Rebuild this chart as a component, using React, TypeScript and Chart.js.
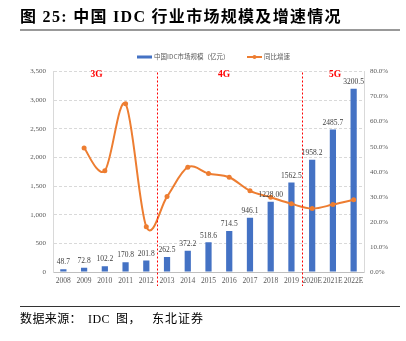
import React, { useEffect, useRef } from "react";
import { Chart, registerables } from "chart.js";

Chart.register(...registerables);

const categories = ["2008","2009","2010","2011","2012","2013","2014","2015","2016","2017","2018","2019","2020E","2021E","2022E"];
const marketSize = [48.7, 72.8, 102.2, 170.8, 201.8, 262.5, 372.2, 518.6, 714.5, 946.1, 1228.0, 1562.5, 1958.2, 2485.7, 3200.5];
const sizeLabels = ["48.7","72.8","102.2","170.8","201.8","262.5","372.2","518.6","714.5","946.1","1228.00","1562.5","1958.2","2485.7","3200.5"];
const growth = [null, 49.5, 40.4, 67.1, 18.1, 30.1, 41.8, 39.3, 37.8, 32.4, 29.8, 27.2, 25.3, 26.9, 28.8];
const eraLabels = ["3G", "4G", "5G"];
const eraPositions = [1.6, 7.75, 13.1];
const eraDividers = [4.5, 11.5];
const seriesNames = ["中国IDC市场规模（亿元）", "同比增速"];
const sourceParts = ["数据来源：", "IDC", "图，", "东北证券"];

const BLUE = "#4472C4";
const ORANGE = "#ED7D31";
const TICK = "#595959";
const SERIF = "'Liberation Serif', 'Times New Roman', serif";
const CJK = "'Noto Sans CJK SC', sans-serif";

// Excel-like (uniform Catmull-Rom) smoothing for the growth line
const smoothPlugin = {
  id: "smooth",
  beforeDatasetDraw(chart: any, args: any) {
    if (args.index !== 1) return;
    const line = args.meta.dataset;
    if (!line) return;
    line.updateControlPoints(chart.chartArea, "x");
    const pts = args.meta.data;
    const valid = (i: number) => i >= 0 && i < pts.length && !pts[i].skip;
    for (let i = 0; i < pts.length; i++) {
      if (!valid(i)) continue;
      const c = pts[i];
      const p = valid(i - 1) ? pts[i - 1] : c;
      const n = valid(i + 1) ? pts[i + 1] : c;
      const tx = (n.x - p.x) / 6;
      const ty = (n.y - p.y) / 6;
      c.cp1x = c.x - tx;
      c.cp1y = c.y - ty;
      c.cp2x = c.x + tx;
      c.cp2y = c.y + ty;
    }
    line._pointsUpdated = true;
    delete line._path;
  },
};

const overlayPlugin = {
  id: "overlay",
  afterDatasetsDraw(chart: any) {
    const { ctx, chartArea } = chart;
    const xs = chart.scales.x;
    const meta = chart.getDatasetMeta(0);
    const px = (v: number) => {
      const i = Math.floor(v);
      const f = v - i;
      const a = xs.getPixelForValue(i);
      const b = xs.getPixelForValue(i + 1);
      return a + (b - a) * f;
    };
    ctx.save();
    // data labels
    ctx.font = `7.5px ${SERIF}`;
    ctx.fillStyle = "#404040";
    ctx.textAlign = "center";
    ctx.textBaseline = "bottom";
    meta.data.forEach((bar: any, i: number) => {
      ctx.fillText(sizeLabels[i], bar.x, bar.y - 3);
    });
    // dividers
    ctx.strokeStyle = "#FF0000";
    ctx.lineWidth = 1;
    ctx.setLineDash([2, 2]);
    eraDividers.forEach((d) => {
      const x = Math.round(px(d)) + 0.5;
      ctx.beginPath();
      ctx.moveTo(x, chartArea.top + 1);
      ctx.lineTo(x, chartArea.bottom + 14);
      ctx.stroke();
    });
    ctx.setLineDash([]);
    // era labels
    ctx.font = `bold 9.5px ${SERIF}`;
    ctx.fillStyle = "#FF0000";
    ctx.textBaseline = "middle";
    eraLabels.forEach((t, i) => {
      ctx.fillText(t, px(eraPositions[i]), chartArea.top + 3);
    });
    // legend
    const ly = 57;
    ctx.fillStyle = BLUE;
    ctx.fillRect(137, ly - 1.5, 15, 3);
    ctx.font = `6.5px ${CJK}`;
    ctx.fillStyle = TICK;
    ctx.textAlign = "left";
    ctx.fillText(seriesNames[0], 154, ly);
    ctx.strokeStyle = ORANGE;
    ctx.lineWidth = 2;
    ctx.beginPath();
    ctx.moveTo(247, ly);
    ctx.lineTo(262, ly);
    ctx.stroke();
    ctx.fillStyle = ORANGE;
    ctx.beginPath();
    ctx.arc(254.5, ly, 2, 0, Math.PI * 2);
    ctx.fill();
    ctx.fillStyle = TICK;
    ctx.fillText(seriesNames[1], 264, ly);
    ctx.restore();
  },
};

export default function App() {
  const ref = useRef<HTMLCanvasElement>(null);
  useEffect(() => {
    if (!ref.current) return;
    const chart = new Chart(ref.current, {
      type: "bar",
      data: {
        labels: categories,
        datasets: [
          {
            type: "bar",
            label: seriesNames[0],
            data: marketSize,
            backgroundColor: BLUE,
            barPercentage: 0.3,
            categoryPercentage: 1,
            yAxisID: "y",
            order: 2,
          },
          {
            type: "line",
            label: seriesNames[1],
            data: growth as any,
            borderColor: ORANGE,
            backgroundColor: ORANGE,
            borderWidth: 2,
            pointRadius: 2.5,
            pointBorderWidth: 0,
            tension: 0.4,
            yAxisID: "y1",
            order: 1,
          } as any,
        ],
      },
      options: {
        animation: false,
        responsive: false,
        maintainAspectRatio: false,
        layout: { padding: { top: 71.5, left: 0, right: 0, bottom: 0 } },
        plugins: { legend: { display: false }, tooltip: { enabled: false } },
        scales: {
          x: {
            grid: { display: false, drawTicks: false },
            border: { display: true, color: "#bfbfbf" },
            ticks: { color: TICK, font: { family: SERIF, size: 7.5 }, padding: 5, maxRotation: 0, autoSkip: false },
            afterFit: (s: any) => { s.height = 69; },
          },
          y: {
            position: "left",
            min: 0,
            max: 3500,
            ticks: { stepSize: 500, color: TICK, font: { family: SERIF, size: 7 }, padding: 7 },
            grid: { color: "#d9d9d9", drawTicks: false },
            border: { display: true, color: "#d9d9d9", dash: [3, 2] },
            afterFit: (s: any) => { s.width = 53; },
          },
          y1: {
            position: "right",
            min: 0,
            max: 80,
            ticks: { stepSize: 10, color: TICK, font: { family: SERIF, size: 7 }, padding: 6, callback: (v: any) => Number(v).toFixed(1) + "%" },
            grid: { display: false, drawTicks: false },
            border: { display: true, color: "#d9d9d9" },
            afterFit: (s: any) => { s.width = 42; },
          },
        },
      },
      plugins: [smoothPlugin, overlayPlugin],
    });
    return () => chart.destroy();
  }, []);

  const srcStyle: React.CSSProperties = { position: "absolute", top: 310, fontFamily: `'Liberation Serif', ${CJK}`, fontSize: 12, lineHeight: "18px", color: "#000", whiteSpace: "nowrap" };
  const srcLeft = [20, 88, 116, 152];

  return (
    <div style={{ position: "fixed", left: 0, top: 0, width: 406, height: 341, background: "#fff", overflow: "hidden" }}>
      <canvas ref={ref} width={406} height={341} style={{ position: "absolute", left: 0, top: 0, width: 406, height: 341 }} />
      <div style={{ position: "absolute", left: 20, top: 6, fontFamily: `'Liberation Serif', ${CJK}`, fontWeight: 700, fontSize: 16, letterSpacing: 1.3, lineHeight: "22px", color: "#000", whiteSpace: "nowrap" }}>
        图 25: 中国 IDC 行业市场规模及增速情况
      </div>
      <div style={{ position: "absolute", left: 20, top: 29, width: 380, height: 2, background: "#999" }} />
      <div style={{ position: "absolute", left: 20, top: 306, width: 380, height: 1, background: "#333" }} />
      {sourceParts.map((t, i) => (
        <div key={i} style={{ ...srcStyle, left: srcLeft[i], letterSpacing: i === 3 ? 1 : 0.4 }}>{t}</div>
      ))}
    </div>
  );
}
